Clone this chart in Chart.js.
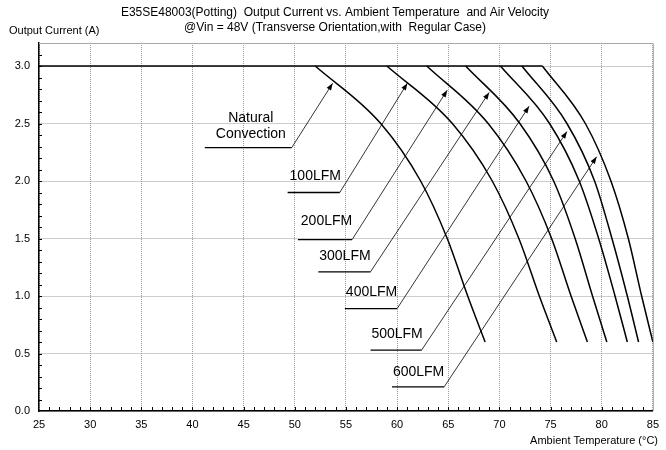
<!DOCTYPE html>
<html>
<head>
<meta charset="utf-8">
<script src="https://cdn.jsdelivr.net/npm/chart.js@4.4.1/dist/chart.umd.min.js"></script>
<style>
  html, body { margin: 0; padding: 0; background: #fff; }
  #wrap { width: 666px; height: 450px; position: relative; }
</style>
</head>
<body>
<div id="wrap"><canvas id="deratingChart"></canvas></div>
<script>
// current levels (A) where each curve was read
const currentLevels = [3.0, 2.5, 2.0, 1.5, 1.0, 0.6];

// ambient temperature (C) at each current level, per air velocity
const tempNatural = [52.0, 58.4, 62.3, 64.9, 66.9, 68.6];
const temp100 = [59.0, 65.4, 69.3, 71.9, 73.9, 75.6];
const temp200 = [62.9, 68.9, 72.6, 75.1, 77.0, 78.6];
const temp300 = [66.7, 72.0, 75.3, 77.4, 79.1, 80.5];
const temp400 = [70.1, 74.9, 77.8, 79.7, 81.3, 82.5];
const temp500 = [72.2, 76.6, 79.3, 81.0, 82.5, 83.6];
const temp600 = [74.2, 78.4, 80.9, 82.6, 83.9, 85.0];

const ratedCurrent = 3.0;
const flatStartTemp = 25;

const seriesNames = ['Natural Convection', '100LFM', '200LFM', '300LFM', '400LFM', '500LFM', '600LFM'];
const seriesTemps = [tempNatural, temp100, temp200, temp300, temp400, temp500, temp600];

// callout labels: text lines, text centre, underline, arrow tip (data units)
const callouts = [
  { lines: ['Natural', 'Convection'], tx: 45.7, ty: [2.55, 2.41], ul: [41.2, 49.7, 2.29], tip: [53.7, 2.85] },
  { lines: ['100LFM'], tx: 52.0, ty: [2.04], ul: [49.3, 54.4, 1.90], tip: [61.0, 2.85] },
  { lines: ['200LFM'], tx: 53.1, ty: [1.65], ul: [50.3, 55.6, 1.49], tip: [64.9, 2.79] },
  { lines: ['300LFM'], tx: 54.9, ty: [1.35], ul: [52.3, 57.4, 1.21], tip: [69.0, 2.77] },
  { lines: ['400LFM'], tx: 57.5, ty: [1.03], ul: [54.9, 60.0, 0.89], tip: [72.9, 2.65] },
  { lines: ['500LFM'], tx: 60.0, ty: [0.67], ul: [57.4, 62.4, 0.53], tip: [76.6, 2.43] },
  { lines: ['600LFM'], tx: 62.1, ty: [0.34], ul: [59.5, 64.6, 0.21], tip: [79.5, 2.21] }
];

const FONT = 'Arial, "Liberation Sans", sans-serif';

const datasets = seriesTemps.map(function (temps, i) {
  return {
    label: seriesNames[i],
    data: temps.map(function (t, k) { return { x: t, y: currentLevels[k] }; }),
    borderColor: '#000',
    borderWidth: 1.5,
    pointRadius: 0,
    cubicInterpolationMode: 'monotone',
    fill: false
  };
});

// rated current plateau shared by all curves
datasets.push({
  label: 'Rated',
  data: [{ x: flatStartTemp, y: ratedCurrent }, { x: Math.max.apply(null, seriesTemps.map(function (t) { return t[0]; })), y: ratedCurrent }],
  borderColor: '#000',
  borderWidth: 1.5,
  pointRadius: 0,
  fill: false
});

const calloutPlugin = {
  id: 'callouts',
  afterDatasetsDraw(chart) {
    const ctx = chart.ctx;
    const xs = chart.scales.x, ys = chart.scales.y;
    ctx.save();
    callouts.forEach(function (c) {
      const x1 = xs.getPixelForValue(c.ul[0]);
      const x2 = xs.getPixelForValue(c.ul[1]);
      const yl = ys.getPixelForValue(c.ul[2]);
      // underline
      ctx.strokeStyle = '#000';
      ctx.lineWidth = 1.3;
      ctx.beginPath();
      ctx.moveTo(x1, yl);
      ctx.lineTo(x2, yl);
      ctx.stroke();
      // leader line
      const tx = xs.getPixelForValue(c.tip[0]);
      const ty = ys.getPixelForValue(c.tip[1]);
      ctx.lineWidth = 0.8;
      ctx.beginPath();
      ctx.moveTo(x2, yl);
      ctx.lineTo(tx, ty);
      ctx.stroke();
      // arrow head
      const ang = Math.atan2(ty - yl, tx - x2);
      const len = 7, half = 2.6;
      ctx.fillStyle = '#000';
      ctx.beginPath();
      ctx.moveTo(tx, ty);
      ctx.lineTo(tx - len * Math.cos(ang) + half * Math.sin(ang), ty - len * Math.sin(ang) - half * Math.cos(ang));
      ctx.lineTo(tx - len * Math.cos(ang) - half * Math.sin(ang), ty - len * Math.sin(ang) + half * Math.cos(ang));
      ctx.closePath();
      ctx.fill();
      // text
      ctx.font = '14px ' + FONT;
      ctx.textAlign = 'center';
      ctx.textBaseline = 'middle';
      c.lines.forEach(function (line, k) {
        ctx.fillText(line, xs.getPixelForValue(c.tx), ys.getPixelForValue(c.ty[k]));
      });
    });
    ctx.restore();
  },
  afterDraw(chart) {
    const ctx = chart.ctx;
    const a = chart.chartArea;
    const xs = chart.scales.x, ys = chart.scales.y;
    ctx.save();
    // top and right frame
    ctx.strokeStyle = '#a8a8a8';
    ctx.lineWidth = 1;
    ctx.beginPath();
    ctx.moveTo(a.left, a.top + 0.5);
    ctx.lineTo(a.right + 0.5, a.top + 0.5);
    ctx.lineTo(a.right + 0.5, a.bottom);
    ctx.stroke();
    // minor ticks
    ctx.strokeStyle = '#000';
    ctx.beginPath();
    for (let t = xs.min + 1; t < xs.max; t++) {
      const px = Math.round(xs.getPixelForValue(t)) + 0.5;
      ctx.moveTo(px, a.bottom);
      ctx.lineTo(px, a.bottom - 4);
    }
    for (let k = 1; k < 32; k++) {
      const py = Math.round(ys.getPixelForValue(k / 10)) + 0.5;
      ctx.moveTo(a.left, py);
      ctx.lineTo(a.left + 3, py);
    }
    ctx.stroke();
    // titles
    ctx.fillStyle = '#000';
    ctx.font = '12px ' + FONT;
    ctx.textAlign = 'center';
    ctx.textBaseline = 'middle';
    ctx.fillText('E35SE48003(Potting)  Output Current vs. Ambient Temperature  and Air Velocity', 335, 13);
    ctx.fillText('@Vin = 48V (Transverse Orientation,with  Regular Case)', 335, 28);
    ctx.font = '11px ' + FONT;
    ctx.textAlign = 'left';
    ctx.fillText('Output Current (A)', 9, 31);
    ctx.textAlign = 'right';
    ctx.fillText('Ambient Temperature (\u00B0C)', 658, 441);
    ctx.restore();
  }
};

new Chart(document.getElementById('deratingChart'), {
  type: 'line',
  data: { datasets: datasets },
  options: {
    responsive: true,
    maintainAspectRatio: false,
    animation: false,
    layout: { padding: { top: 43, right: 13, left: 0, bottom: 0 } },
    plugins: { legend: { display: false }, tooltip: { enabled: false }, title: { display: false } },
    scales: {
      x: {
        type: 'linear',
        min: 25,
        max: 85,
        afterFit: function (scale) { scale.height = 39; },
        ticks: { stepSize: 5, color: '#000', padding: 7, font: { family: FONT, size: 11 } },
        grid: { color: '#9a9a9a', drawTicks: false },
        border: { color: '#000', width: 1.5, dash: [1, 1] }
      },
      y: {
        min: 0,
        max: 3.2,
        afterFit: function (scale) { scale.width = 39; },
        ticks: {
          stepSize: 0.5,
          includeBounds: false,
          color: '#000',
          padding: 9,
          font: { family: FONT, size: 11 },
          callback: function (v) { return Number(v).toFixed(1); }
        },
        grid: { color: '#9a9a9a', drawTicks: false },
        border: { color: '#000', width: 1.5, dash: [1, 1] }
      }
    }
  },
  plugins: [calloutPlugin]
});
</script>
</body>
</html>
